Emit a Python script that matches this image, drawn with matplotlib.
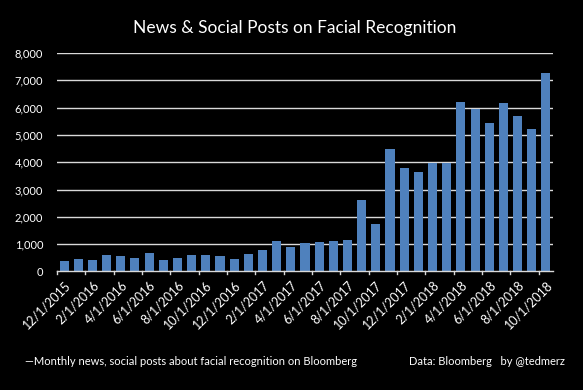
import matplotlib
matplotlib.use("Agg")
import matplotlib.pyplot as plt
import numpy as np

# monthly counts, 12/2015 .. 10/2018
months = [
    "12/1/2015", "1/1/2016", "2/1/2016", "3/1/2016", "4/1/2016", "5/1/2016",
    "6/1/2016", "7/1/2016", "8/1/2016", "9/1/2016", "10/1/2016", "11/1/2016",
    "12/1/2016", "1/1/2017", "2/1/2017", "3/1/2017", "4/1/2017", "5/1/2017",
    "6/1/2017", "7/1/2017", "8/1/2017", "9/1/2017", "10/1/2017", "11/1/2017",
    "12/1/2017", "1/1/2018", "2/1/2018", "3/1/2018", "4/1/2018", "5/1/2018",
    "6/1/2018", "7/1/2018", "8/1/2018", "9/1/2018", "10/1/2018",
]
posts = [
    370, 470, 430, 610, 580, 500, 690, 430, 500, 610, 610, 580,
    470, 650, 770, 1120, 900, 1060, 1070, 1110, 1150, 2610, 1730,
    4480, 3780, 3630, 3980, 3980, 6200, 5940, 5430, 6160, 5680, 5210, 7260,
]
yticks = [0, 1000, 2000, 3000, 4000, 5000, 6000, 7000, 8000]

BG = "black"
BAR = "#4f81bd"
FG = "white"
GRID = "#d9d9d9"

plt.rcParams["font.family"] = ["Lato", "DejaVu Sans"]

fig = plt.figure(figsize=(5.83, 3.90), dpi=100)
fig.patch.set_facecolor(BG)
ax = fig.add_axes([0.0978, 0.304, 0.8507, 0.560])
ax.set_facecolor(BG)

x = np.arange(len(months))
ax.bar(x, posts, width=0.64, color=BAR, zorder=3)

ax.set_ylim(0, 8000)
ax.set_xlim(-0.5, len(months) - 0.5)
ax.set_yticks(yticks)
ax.set_yticklabels([f"{v:,}" for v in yticks], color=FG, fontsize=8)
ax.tick_params(axis="y", length=0, pad=10)
for v in yticks[1:]:
    ax.axhline(v, color=GRID, lw=1.0, zorder=1)

# labels under every other bar, ticks on category boundaries
ax.set_xticks(x[::2])
ax.set_xticklabels(months[::2], rotation=45, ha="right", rotation_mode="anchor",
                   color=FG, fontsize=9)
ax.tick_params(axis="x", length=0, pad=5)
for b in np.arange(-0.5, len(months), 2):
    ax.plot([b, b], [0, -100], color=GRID, lw=1, clip_on=False, zorder=4)

for side in ("top", "right", "left"):
    ax.spines[side].set_visible(False)
ax.spines["bottom"].set_color(GRID)
ax.spines["bottom"].set_linewidth(1.0)
ax.spines["bottom"].set_zorder(4)

fig.text(0.506, 0.928, "News & Social Posts on Facial Recognition",
         ha="center", va="center", color=FG, fontsize=12.5)
fig.text(0.043, 0.072, "\u2014Monthly news, social posts about facial recognition on Bloomberg",
         ha="left", va="center", color=FG, fontsize=8)
fig.text(0.969, 0.072, "Data: Bloomberg   by @tedmerz",
         ha="right", va="center", color=FG, fontsize=8)

fig.savefig("out.png", dpi=100, facecolor=fig.get_facecolor())
